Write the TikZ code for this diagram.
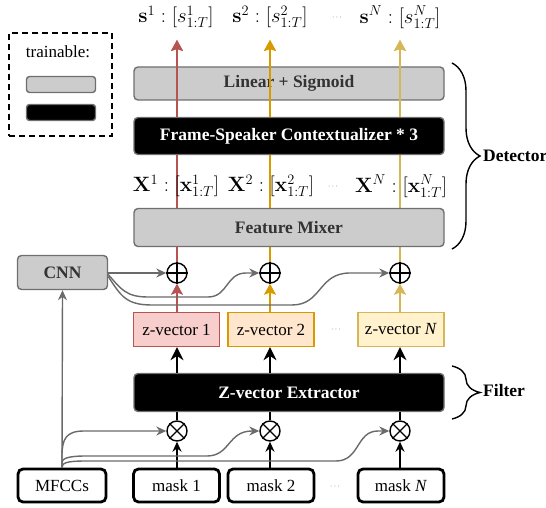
\documentclass[tikz,border=0pt]{standalone}
\usepackage[no-math]{fontspec}
\setmainfont{Liberation Serif}
\usetikzlibrary{arrows.meta,decorations.pathreplacing,backgrounds}
\definecolor{boxgray}{HTML}{CCCCCC}
\definecolor{edgegray}{HTML}{6F6F6F}
\definecolor{linkgray}{HTML}{6A6A6A}
\definecolor{redline}{HTML}{B85450}
\definecolor{redfill}{HTML}{F8CECC}
\definecolor{orangeline}{HTML}{D79B00}
\definecolor{orangefill}{HTML}{FFE6CC}
\definecolor{yellowline}{HTML}{D6B656}
\definecolor{yellowfill}{HTML}{FFF2CC}
\begin{document}
\begin{tikzpicture}[x=1pt,y=-1pt,
  txt/.style={font=\fontsize{17}{20}\selectfont},
  graybox/.style={draw=edgegray, fill=boxgray, line width=1.4pt, rounded corners=4pt,
    font=\fontsize{17.5}{20}\selectfont\bfseries, text=black!80, inner sep=0pt},
  blackbox/.style={draw=edgegray, fill=black, text=white, line width=1.4pt, rounded corners=4pt,
    font=\fontsize{17.5}{20}\selectfont\bfseries, inner sep=0pt},
  inbox/.style={draw=black, fill=white, line width=2.8pt, rounded corners=5pt,
    font=\fontsize{17}{20}\selectfont, inner sep=0pt, minimum height=33pt},
  zbox/.style={line width=1.4pt, font=\fontsize{17}{20}\selectfont, inner sep=0pt,
    minimum height=34pt, minimum width=86pt},
  op/.style={circle, draw=black, line width=1.4pt, minimum size=20pt, inner sep=0pt, fill=white},
  link/.style={draw=linkgray, line width=1.4pt, -{Stealth[length=10pt,width=9pt]}},
  blk/.style={draw=black, line width=1.4pt, -{Stealth[length=10pt,width=9pt]}},
  bigblk/.style={draw=black, line width=1.4pt, -{Stealth[length=13pt,width=13pt]}},
  colline/.style={line width=1.4pt, -{Stealth[length=11pt,width=12pt,inset=2pt]}},
  mathlbl/.style={font=\fontsize{21}{24}\selectfont, inner sep=0pt},
  xlbl/.style={font=\fontsize{20.5}{24}\selectfont, inner sep=0pt},
  dots/.style={font=\fontsize{8}{8}\selectfont, text=black!70},
  curly/.style={draw=black, line width=1.4pt, decorate, decoration={brace, amplitude=28pt}},
]
\useasboundingbox (0,0) rectangle (546,508);

% legend
\node[draw=black, dashed, dash pattern=on 6pt off 4pt, line width=1.4pt,
  minimum width=103pt, minimum height=103pt, inner sep=0pt] (legend) at (60.5,84.5) {};
\node[txt] (legtxt) at (58,52) {trainable:};
\node[draw=edgegray, fill=boxgray, line width=1.4pt, rounded corners=3pt,
  minimum width=69pt, minimum height=16pt, inner sep=0pt] (leggray) at (61,84.5) {};
\node[draw=edgegray, fill=black, line width=1.4pt, rounded corners=3pt,
  minimum width=69pt, minimum height=16pt, inner sep=0pt] (legblack) at (61,112.5) {};

% detector stack
\node[graybox, minimum width=310pt, minimum height=33pt] (lin) at (289,83.5) {Linear + Sigmoid};
\node[blackbox, minimum width=310pt, minimum height=37pt] (fsc) at (289,136) {Frame-Speaker Contextualizer * 3};
\node[graybox, minimum width=310pt, minimum height=38pt] (mix) at (289,227.5) {Feature Mixer};

% output labels
\node[mathlbl] (s1) at (176,17) {$\mathbf{s}^1 : [s^1_{1:T}]$};
\node[mathlbl] (s2) at (270,17) {$\mathbf{s}^2 : [s^2_{1:T}]$};
\node[dots] (sd) at (337,18) {$\cdots$};
\node[mathlbl] (sN) at (400,17) {$\mathbf{s}^N : [s^N_{1:T}]$};
\coordinate (a1) at (177,40);
\coordinate (a2) at (270,40);
\coordinate (a3) at (400,40);

% feature labels
\node[xlbl] (x1) at (176,186) {$\mathbf{X}^1 : [\mathbf{x}^1_{1:T}]$};
\node[xlbl] (x2) at (271,186) {$\mathbf{X}^2 : [\mathbf{x}^2_{1:T}]$};
\node[dots] (xd) at (333,187) {$\cdots$};
\node[xlbl] (xN) at (401,186) {$\mathbf{X}^N : [\mathbf{x}^N_{1:T}]$};

% adders
\node[op] (p1) at (177,273) {};
\node[op] (p2) at (270,273) {};
\node[op] (p3) at (400,273) {};
\foreach \p in {p1,p2,p3}{
  \draw[line width=1.4pt] (\p.north) -- (\p.south) (\p.west) -- (\p.east);
}

\node[graybox, minimum width=90pt, minimum height=34pt] (cnn) at (62.5,272.5) {CNN};

% z-vectors
\node[zbox, draw=redline, fill=redfill] (z1) at (176.5,329.5) {z-vector 1};
\node[zbox, draw=orangeline, fill=orangefill] (z2) at (271,329.5) {z-vector 2};
\node[dots] (zd) at (336,330) {$\cdots$};
\node[zbox, draw=yellowline, fill=yellowfill] (zN) at (401,329.5) {z-vector \textit{N}};

% filter
\node[blackbox, minimum width=310pt, minimum height=38pt] (zex) at (289,392.5) {Z-vector Extractor};

% multipliers
\node[op] (t1) at (177,431) {};
\node[op] (t2) at (270,431) {};
\node[op] (t3) at (400,431) {};
\foreach \t in {t1,t2,t3}{
  \draw[line width=1.4pt] (\t.north east) -- (\t.south west) (\t.north west) -- (\t.south east);
}

% inputs
\node[inbox, minimum width=88pt] (mf) at (62,485.5) {MFCCs};
\node[inbox, minimum width=86pt] (m1) at (176.5,485.5) {mask 1};
\node[inbox, minimum width=86pt] (m2) at (271,485.5) {mask 2};
\node[dots] (md) at (335,487) {$\cdots$};
\node[inbox, minimum width=86pt] (mN) at (401,485.5) {mask \textit{N}};

% braces
\draw[curly] (452,63) -- (452,249);
\node[font=\fontsize{17.5}{20}\selectfont\bfseries, anchor=west, inner sep=0pt] (det) at (483,156) {Detector};
\draw[curly] (452,366) -- (452,419);
\node[font=\fontsize{17.5}{20}\selectfont\bfseries, anchor=west, inner sep=0pt] (fil) at (483,391) {Filter};

\begin{pgfonlayer}{background}
  % speaker streams running up through the detector
  \draw[colline, draw=redline, fill=redline] (p1.north) -- (a1);
  \draw[colline, draw=orangeline, fill=orangeline] (p2.north) -- (a2);
  \draw[colline, draw=yellowline, fill=yellowline] (p3.north) -- (a3);
  % extractor taps
  \draw[line width=1.4pt] (t1.north) -- (t1 |- zex.south);
  \draw[line width=1.4pt] (t2.north) -- (t2 |- zex.south);
  \draw[line width=1.4pt] (t3.north) -- (t3 |- zex.south);
\end{pgfonlayer}

% streams drawn over the output layer
\draw[colline, draw=redline, fill=redline] (p1 |- fsc.north) -- (a1);
\draw[colline, draw=orangeline, fill=orangeline] (p2 |- fsc.north) -- (a2);
\draw[colline, draw=yellowline, fill=yellowline] (p3 |- fsc.north) -- (a3);

% z-vectors into the adders
\draw[colline, draw=redline, fill=redline] (z1.north -| p1) -- (p1.south);
\draw[colline, draw=orangeline, fill=orangeline] (z2.north -| p2) -- (p2.south);
\draw[colline, draw=yellowline, fill=yellowline] (zN.north -| p3) -- (p3.south);

% extractor outputs
\draw[bigblk] (zex.north -| p1) -- (z1.south -| p1);
\draw[bigblk] (zex.north -| p2) -- (z2.south -| p2);
\draw[bigblk] (zex.north -| p3) -- (zN.south -| p3);

% masks into the multipliers
\draw[blk] (m1.north -| t1) -- (t1.south);
\draw[blk] (m2.north -| t2) -- (t2.south);
\draw[blk] (mN.north -| t3) -- (t3.south);

% CNN branches to the adders
\draw[link] (cnn.east |- p1) -- (p1.west);
\draw[link] ([yshift=-2pt]cnn.east) .. controls (121,289) and (126,297) .. (148,297)
  -- (208,297) .. controls (228,297) and (226,273) .. (246,273) -- (p2.west);
\draw[link] ([yshift=-4pt]cnn.east) .. controls (121,296) and (126,305) .. (152,305)
  -- (292,305) .. controls (322,305) and (318,273) .. (350,273) -- (p3.west);

% MFCC branches
\draw[link] (mf.north) -- (cnn.south);
\draw[link] (mf.north) -- (62,456) .. controls (62,439) and (66,431) .. (84,431) -- (t1.west);
\draw[link] (mf.north) -- (62,463) .. controls (62,459) and (66,456) .. (86,456)
  -- (207,456) .. controls (230,456) and (228,431) .. (252,431) -- (t2.west);
\draw[link] (mf.north) .. controls (62,463) and (66,461) .. (86,461)
  -- (336,461) .. controls (360,461) and (356,431) .. (378,431) -- (t3.west);
\end{tikzpicture}
\end{document}
